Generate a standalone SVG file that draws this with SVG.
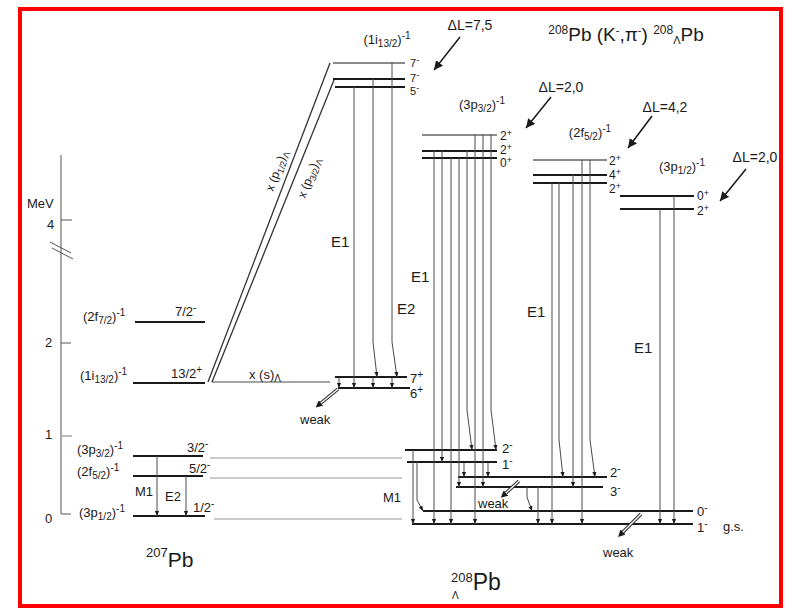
<svg xmlns="http://www.w3.org/2000/svg" width="795" height="610" viewBox="0 0 795 610">
<defs>
<style>
text{font-family:"Liberation Sans",Arial,Helvetica,sans-serif;fill:#1a1a1a}
.t{font-size:13px}
.sp{font-size:12px}
.m{font-size:13px;text-anchor:middle}
.d{font-size:14px;text-anchor:middle}
.e{font-size:15px}
.k{font-size:13px}
.lv{stroke:#1a1a1a;stroke-width:2}
.lg{stroke:#8a8a8a;stroke-width:2}
.tr{stroke:#4a4a4a;stroke-width:1;fill:none}
.cn{stroke:#999;stroke-width:1}
.wk{stroke:#333;stroke-width:3.5;fill:none}
.wi{stroke:#fff;stroke-width:1.2;fill:none}
</style>
<marker id="a" markerUnits="userSpaceOnUse" markerWidth="5" markerHeight="6" refX="6" refY="2.5" orient="auto" viewBox="0 0 6 5"><path d="M0,0L6,2.5L0,5z" fill="#1a1a1a"/></marker>
<marker id="b" markerUnits="userSpaceOnUse" markerWidth="9" markerHeight="9" refX="9" refY="4.5" orient="auto" viewBox="0 0 9 9"><path d="M0,0L9,4.5L0,9z" fill="#1a1a1a"/></marker>
<marker id="w" markerUnits="userSpaceOnUse" markerWidth="7" markerHeight="7" refX="0" refY="3.5" orient="auto" viewBox="0 0 7 7"><path d="M0,0L7,3.5L0,7z" fill="#1a1a1a"/></marker>
</defs>
<rect x="0" y="0" width="795" height="610" fill="#fff"/>
<rect x="20" y="9" width="761" height="597" fill="none" stroke="#f00" stroke-width="4"/>

<g id="axis">
<line x1="61" y1="155" x2="61" y2="514" stroke="#555" stroke-width="1"/>
<line x1="61" y1="514" x2="71" y2="514" stroke="#555"/>
<line x1="62" y1="436" x2="72" y2="436" stroke="#777"/>
<line x1="61" y1="343" x2="71" y2="343" stroke="#555"/>
<line x1="61" y1="220" x2="72" y2="220" stroke="#555"/>
<line x1="50" y1="242" x2="71" y2="253" stroke="#555"/>
<line x1="52" y1="248" x2="73" y2="259" stroke="#555"/>
<text x="27" y="208" class="t">MeV</text>
<text x="47" y="229" class="t">4</text>
<text x="45" y="347" class="t">2</text>
<text x="45" y="439" class="t">1</text>
<text x="45" y="523" class="t">0</text>
</g>

<g id="pb207">
<line x1="135" y1="322" x2="205" y2="322" class="lv"/>
<text x="83" y="321" class="t">(2f<tspan dy="3" font-size="10">7/2</tspan><tspan dy="-3">)</tspan><tspan dy="-5" font-size="10">-1</tspan></text>
<text x="175" y="316" class="t">7/2<tspan dy="-5" font-size="10">-</tspan></text>
<line x1="133" y1="383" x2="205" y2="383" class="lv" stroke-width="3"/>
<text x="80" y="380" class="t">(1i<tspan dy="3" font-size="10">13/2</tspan><tspan dy="-3">)</tspan><tspan dy="-5" font-size="10">-1</tspan></text>
<text x="171" y="378" class="t">13/2<tspan dy="-5" font-size="10">+</tspan></text>
<line x1="133" y1="456" x2="203" y2="456" class="lv" stroke-width="1.6"/>
<text x="77" y="454" class="t">(3p<tspan dy="3" font-size="10">3/2</tspan><tspan dy="-3">)</tspan><tspan dy="-5" font-size="10">-1</tspan></text>
<text x="187" y="452" class="t">3/2<tspan dy="-5" font-size="10">-</tspan></text>
<line x1="133" y1="476" x2="203" y2="476" class="lv" stroke-width="1.6"/>
<text x="77" y="476" class="t">(2f<tspan dy="3" font-size="10">5/2</tspan><tspan dy="-3">)</tspan><tspan dy="-5" font-size="10">-1</tspan></text>
<text x="189" y="473" class="t">5/2<tspan dy="-5" font-size="10">-</tspan></text>
<line x1="133" y1="516" x2="205" y2="516" class="lv" stroke-width="3"/>
<text x="79" y="517" class="t">(3p<tspan dy="3" font-size="10">1/2</tspan><tspan dy="-3">)</tspan><tspan dy="-5" font-size="10">-1</tspan></text>
<text x="193" y="512" class="t">1/2<tspan dy="-5" font-size="10">-</tspan></text>
<text x="135" y="496" class="t">M1</text>
<text x="165" y="501" class="t">E2</text>
<text x="146" y="567" font-size="21"><tspan dy="-10" font-size="13">207</tspan><tspan dy="10">Pb</tspan></text>
</g>

<g id="i13">
<line x1="333" y1="63" x2="405" y2="63" class="lg"/>
<line x1="333" y1="79" x2="405" y2="79" class="lv"/>
<line x1="335" y1="87" x2="405" y2="87" class="lv" stroke-width="1.5"/>
<text x="410" y="67" font-size="11">7<tspan dy="-4" font-size="9">-</tspan></text>
<text x="410" y="82" font-size="11">7<tspan dy="-4" font-size="9">-</tspan></text>
<text x="410" y="95" font-size="11">5<tspan dy="-4" font-size="9">-</tspan></text>
<text x="387" y="44" class="m">(1i<tspan dy="3" font-size="10">13/2</tspan><tspan dy="-3">)</tspan><tspan dy="-5" font-size="10">-1</tspan></text>
<line x1="335" y1="377" x2="407" y2="377" class="lv"/>
<line x1="338" y1="388" x2="410" y2="388" class="lv" stroke-width="1.5"/>
<text x="410" y="383" class="t">7<tspan dy="-5" font-size="10">+</tspan></text>
<text x="410" y="398" class="t">6<tspan dy="-5" font-size="10">+</tspan></text>
<text x="331" y="247" class="e">E1</text>
<text x="397" y="314" class="e">E2</text>
<text x="300" y="424" class="k">weak</text>
</g>

<g id="p32">
<line x1="422" y1="135" x2="497" y2="135" class="lg"/>
<line x1="422" y1="151" x2="497" y2="151" class="lv"/>
<line x1="422" y1="158" x2="497" y2="158" class="lv" stroke-width="1.5"/>
<text x="500" y="140" class="sp">2<tspan dy="-4" font-size="9">+</tspan></text>
<text x="500" y="154" class="sp">2<tspan dy="-4" font-size="9">+</tspan></text>
<text x="500" y="167" class="sp">0<tspan dy="-4" font-size="9">+</tspan></text>
<text x="482" y="109" class="m">(3p<tspan dy="3" font-size="10">3/2</tspan><tspan dy="-3">)</tspan><tspan dy="-5" font-size="10">-1</tspan></text>
<line x1="405" y1="450" x2="497" y2="450" class="lv" stroke-width="1.5"/>
<line x1="407" y1="462" x2="497" y2="462" class="lv" stroke-width="1.5"/>
<text x="502" y="453" class="t">2<tspan dy="-5" font-size="10">-</tspan></text>
<text x="502" y="469" class="t">1<tspan dy="-5" font-size="10">-</tspan></text>
<text x="411" y="282" class="e">E1</text>
</g>

<g id="f52">
<line x1="533" y1="160" x2="607" y2="160" class="lg"/>
<line x1="533" y1="175" x2="607" y2="175" class="lv"/>
<line x1="533" y1="183" x2="607" y2="183" class="lv" stroke-width="1.5"/>
<text x="609" y="165" class="sp">2<tspan dy="-4" font-size="9">+</tspan></text>
<text x="609" y="179" class="sp">4<tspan dy="-4" font-size="9">+</tspan></text>
<text x="609" y="193" class="sp">2<tspan dy="-4" font-size="9">+</tspan></text>
<text x="590" y="137" class="m">(2f<tspan dy="3" font-size="10">5/2</tspan><tspan dy="-3">)</tspan><tspan dy="-5" font-size="10">-1</tspan></text>
<line x1="458" y1="477" x2="607" y2="477" class="lv" stroke-width="1.5"/>
<line x1="456" y1="487" x2="603" y2="487" class="lv" stroke-width="1.5"/>
<text x="610" y="477" class="t">2<tspan dy="-5" font-size="10">-</tspan></text>
<text x="610" y="496" class="t">3<tspan dy="-5" font-size="10">-</tspan></text>
<text x="527" y="317" class="e">E1</text>
<text x="478" y="508" class="k">weak</text>
</g>

<g id="p12">
<line x1="620" y1="196" x2="694" y2="196" class="lv"/>
<line x1="620" y1="209" x2="694" y2="209" class="lv" stroke-width="1.5"/>
<text x="697" y="200" class="sp">0<tspan dy="-4" font-size="9">+</tspan></text>
<text x="697" y="215" class="sp">2<tspan dy="-4" font-size="9">+</tspan></text>
<text x="682" y="171" class="m">(3p<tspan dy="3" font-size="10">1/2</tspan><tspan dy="-3">)</tspan><tspan dy="-5" font-size="10">-1</tspan></text>
<text x="634" y="353" class="e">E1</text>
</g>

<g id="gs">
<line x1="423" y1="511" x2="693" y2="511" class="lv" stroke-width="1.5"/>
<line x1="412" y1="524" x2="693" y2="524" class="lv" stroke-width="2"/>
<text x="697" y="516" class="t">0<tspan dy="-5" font-size="10">-</tspan></text>
<text x="697" y="532" class="t">1<tspan dy="-5" font-size="10">-</tspan></text>
<text x="723" y="531" class="t">g.s.</text>
<text x="383" y="502" class="t">M1</text>
<text x="603" y="557" class="k">weak</text>
<text x="451" y="590" font-size="23"><tspan dy="-8" font-size="13">208</tspan><tspan dy="8">Pb</tspan></text>
<text x="452" y="599" font-size="10">Λ</text>
</g>

<g id="title">
<text x="626" y="41" font-size="19" text-anchor="middle"><tspan dy="-7" font-size="12">208</tspan><tspan dy="7">Pb (K</tspan><tspan dy="-7" font-size="11">-</tspan><tspan dy="7">,π</tspan><tspan dy="-7" font-size="11">-</tspan><tspan dy="7">) </tspan><tspan dy="-7" font-size="12">208</tspan><tspan dy="10" font-size="11">Λ</tspan><tspan dy="-3">Pb</tspan></text>
<text x="470" y="30" class="d">ΔL=7,5</text>
<text x="561" y="92" class="d">ΔL=2,0</text>
<text x="665" y="112" class="d">ΔL=4,2</text>
<text x="755" y="162" class="d">ΔL=2,0</text>
</g>

<g id="connectors">
<line x1="210" y1="458" x2="402" y2="458" class="cn"/>
<line x1="210" y1="478" x2="402" y2="478" class="cn"/>
<line x1="214" y1="519" x2="402" y2="519" class="cn"/>
<line x1="157" y1="456" x2="157" y2="516" class="tr" marker-end="url(#a)"/>
<line x1="186" y1="476" x2="186" y2="516" class="tr" marker-end="url(#a)"/>
<line x1="212" y1="382" x2="330" y2="382" class="tr"/>
<text x="249" y="379" class="t">x (s)<tspan dy="3" font-size="10">Λ</tspan></text>
<line x1="208" y1="382" x2="330" y2="63" stroke="#333" stroke-width="1.3"/>
<line x1="212" y1="382" x2="334" y2="80" stroke="#333" stroke-width="1.3"/>
<text transform="translate(273,192) rotate(-70)" font-size="12">x (p<tspan dy="3" font-size="9">1/2</tspan><tspan dy="-3">)</tspan><tspan dy="3" font-size="9">Λ</tspan></text>
<text transform="translate(305,199) rotate(-69)" font-size="12">x (p<tspan dy="3" font-size="9">3/2</tspan><tspan dy="-3">)</tspan><tspan dy="3" font-size="9">Λ</tspan></text>
<line x1="354" y1="87" x2="354" y2="388" class="tr" marker-end="url(#a)"/>
<polyline points="373,79 373,342 377,377" class="tr" marker-end="url(#a)"/>
<polyline points="392,63 392,342 397,377" class="tr" marker-end="url(#a)"/>
<line x1="339" y1="378" x2="339" y2="388" class="tr" marker-end="url(#a)"/>
<line x1="373" y1="378" x2="373" y2="388" class="tr" marker-end="url(#a)"/>
<line x1="392" y1="378" x2="392" y2="388" class="tr" marker-end="url(#a)"/>
<path d="M338,389 L321,403" class="wk" marker-end="url(#w)"/>
<path d="M338,389 L321,403" class="wi"/>
<line x1="434" y1="151" x2="434" y2="524" class="tr" marker-end="url(#a)"/>
<line x1="442" y1="151" x2="442" y2="462" class="tr" marker-end="url(#a)"/>
<line x1="451" y1="158" x2="451" y2="524" class="tr" marker-end="url(#a)"/>
<line x1="459" y1="158" x2="459" y2="487" class="tr" marker-end="url(#a)"/>
<polyline points="467,151 467,410 472,450" class="tr" marker-end="url(#a)"/>
<line x1="475" y1="135" x2="475" y2="524" class="tr" marker-end="url(#a)"/>
<line x1="483" y1="135" x2="483" y2="487" class="tr" marker-end="url(#a)"/>
<polyline points="491,135 491,410 496,450" class="tr" marker-end="url(#a)"/>
<line x1="464" y1="463" x2="464" y2="477" class="tr" marker-end="url(#a)"/>
<line x1="488" y1="463" x2="488" y2="477" class="tr" marker-end="url(#a)"/>
<line x1="413" y1="450" x2="413" y2="524" class="tr" marker-end="url(#a)"/>
<polyline points="417,462 417,500 423,511" class="tr" marker-end="url(#a)"/>
<line x1="552" y1="183" x2="552" y2="524" class="tr" marker-end="url(#a)"/>
<polyline points="559,183 559,440 563,477" class="tr" marker-end="url(#a)"/>
<line x1="573" y1="175" x2="573" y2="487" class="tr" marker-end="url(#a)"/>
<line x1="582" y1="160" x2="582" y2="524" class="tr" marker-end="url(#a)"/>
<polyline points="590,160 590,440 595,477" class="tr" marker-end="url(#a)"/>
<polyline points="527,487 527,497 532,511" class="tr" marker-end="url(#a)"/>
<line x1="538" y1="487" x2="538" y2="524" class="tr" marker-end="url(#a)"/>
<path d="M519,481 L506,493" class="wk" marker-end="url(#w)"/>
<path d="M519,481 L506,493" class="wi"/>
<line x1="660" y1="209" x2="660" y2="524" class="tr" marker-end="url(#a)"/>
<line x1="674" y1="196" x2="674" y2="524" class="tr" marker-end="url(#a)"/>
<path d="M641,514 L623,532" class="wk" marker-end="url(#w)"/>
<path d="M641,514 L623,532" class="wi"/>
<line x1="460" y1="37" x2="434" y2="70" stroke="#1a1a1a" stroke-width="1.5" marker-end="url(#b)"/>
<line x1="551" y1="97" x2="526" y2="128" stroke="#1a1a1a" stroke-width="1.5" marker-end="url(#b)"/>
<line x1="652" y1="116" x2="628" y2="148" stroke="#1a1a1a" stroke-width="1.5" marker-end="url(#b)"/>
<line x1="746" y1="169" x2="720" y2="201" stroke="#1a1a1a" stroke-width="1.5" marker-end="url(#b)"/>
</g>
</svg>
